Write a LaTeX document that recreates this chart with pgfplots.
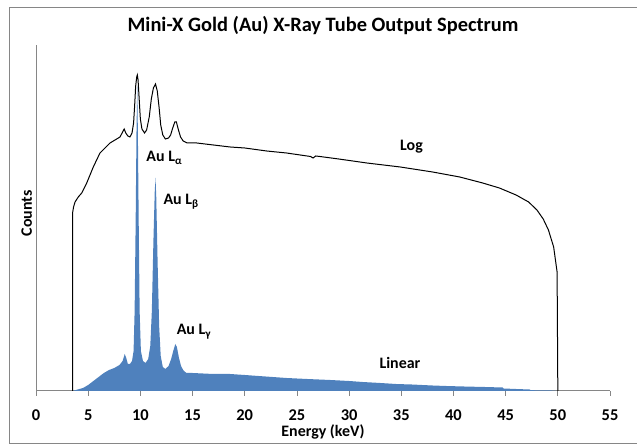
\documentclass[border=0pt]{standalone}
\usepackage{pgfplots}
\pgfplotsset{compat=1.18}
\usepackage{fontspec}
\setmainfont{Carlito}
\definecolor{xlblue}{HTML}{4F81BD}
\definecolor{axgray}{HTML}{868686}

\begin{document}
\begin{tikzpicture}[x=1bp,y=1bp]
\useasboundingbox (-36,-55) rectangle (601,391);
% chart area border (right side cut off in the original)
\draw[axgray, line width=1bp] (605,383) -- (-27,383) -- (-27,-53) -- (605,-53);
\begin{axis}[
    at={(0,0)}, anchor=south west,
    scale only axis, width=574bp, height=346bp,
    xmin=0, xmax=55, ymin=0, ymax=346,
    axis lines=left,
    axis line style={axgray, line width=1bp, -},
    xtick={0,5,...,55}, ytick=\empty,
    tick style={axgray, line width=0.8bp},
    tick align=outside, major tick length=5bp,
    /pgf/number format/assume math mode=true,
    xticklabel={\pgfmathprintnumber{\tick}},
    xticklabel style={font=\bfseries\fontsize{16.5}{16.5}\selectfont, yshift=-10bp},
    title={Mini-X Gold (Au) X-Ray Tube Output Spectrum},
    title style={at={(axis description cs:0.5,1.0376)}, anchor=center,
        font=\bfseries\fontsize{20.5}{20.5}\selectfont},
    xlabel={Energy (keV)},
    xlabel style={at={(axis description cs:0.5,-0.118)}, anchor=center,
        font=\bfseries\fontsize{16}{16}\selectfont},
    ylabel={Counts},
    ylabel style={at={(axis description cs:-0.016,0.514)}, anchor=center,
        font=\bfseries\fontsize{16}{16}\selectfont},
    clip=false,
]
% Linear spectrum (filled)
\addplot[fill=xlblue, draw=none] coordinates {
(3.5,0)(4.0,1.5)(4.5,3)(5.0,6)(5.5,10)(6.0,14)(6.5,18)(7.0,21)(7.5,23)(8.0,26)
(8.3,30)(8.5,37)(8.65,33)(8.8,27)(9.0,27)(9.2,30)(9.35,40)(9.45,80)(9.55,170)
(9.63,260)(9.7,305)(9.76,260)(9.84,170)(9.93,80)(10.05,40)(10.25,30)(10.5,28)
(10.75,32)(10.95,45)(11.1,80)(11.25,150)(11.38,200)(11.45,213)(11.52,195)
(11.65,130)(11.8,65)(11.95,35)(12.15,24)(12.4,22)(12.7,25)(12.95,32)(13.15,40)
(13.35,47)(13.5,44)(13.7,33)(13.9,25)(14.1,21)(14.4,18)(15,18)(16,17.5)(17,17)
(18.6,17)(20,16)(22,14.5)(24,13)(26,12)(28.2,11)(30,10)(31.3,9)(33,8)(34.5,7)
(36,6.5)(38,5.5)(39.3,5)(41,4.5)(43,4)(44.7,3.5)(44.8,2.5)(46,2)(47.3,1.5)
(47.4,0.8)(49.4,0.5)(50,0)
} \closedcycle;
% Log spectrum (line)
\addplot[black, line width=1bp] coordinates {
(3.52,0)(3.52,179)(3.6,184)(3.74,189)(4.05,194)(4.38,198)(4.86,208)(5.49,224)
(6.13,238)(7.09,248)(8.05,254)(8.3,259)(8.45,262)(8.6,258)
(8.8,255)(9.0,254)(9.2,258)(9.35,268)(9.45,285)(9.55,305)(9.65,314)(9.71,316)
(9.78,311)(9.88,293)(10.0,272)(10.15,262)(10.4,258)(10.6,261)(10.85,274)
(11.05,292)(11.25,303)(11.45,307)(11.62,300)(11.8,283)(11.95,266)(12.15,256)
(12.4,252)(12.7,253)(12.9,256)(13.1,263)(13.3,269)(13.45,269)(13.65,261)
(13.85,254)(14.1,250)(14.5,248)(15.4,248)(17,246)(18.6,244)(20,243)(22.1,240)
(24,238)(26.3,234.5)(26.55,233)(26.8,235)(27.2,234.5)(29,232)(31.7,228)(34.9,224)
(38,219)(40.6,214)(42.8,208)(44.4,203)(46,196)(47.2,189)(48,181)(48.6,172)
(49.1,161)(49.6,144)(49.93,119)(50.0,0)
};
\node[anchor=west, font=\bfseries\fontsize{16}{16}\selectfont] at (axis cs:10.25,233) {Au L\textsubscript{α}};
\node[anchor=west, font=\bfseries\fontsize{16}{16}\selectfont] at (axis cs:11.88,189) {Au L\textsubscript{β}};
\node[anchor=west, font=\bfseries\fontsize{16}{16}\selectfont] at (axis cs:13.15,59) {Au L\textsubscript{γ}};
\node[font=\bfseries\fontsize{16}{16}\selectfont] at (axis cs:34.87,28) {Linear};
\node[font=\bfseries\fontsize{16}{16}\selectfont] at (axis cs:35.98,244) {Log};
\end{axis}
\end{tikzpicture}
\end{document}
